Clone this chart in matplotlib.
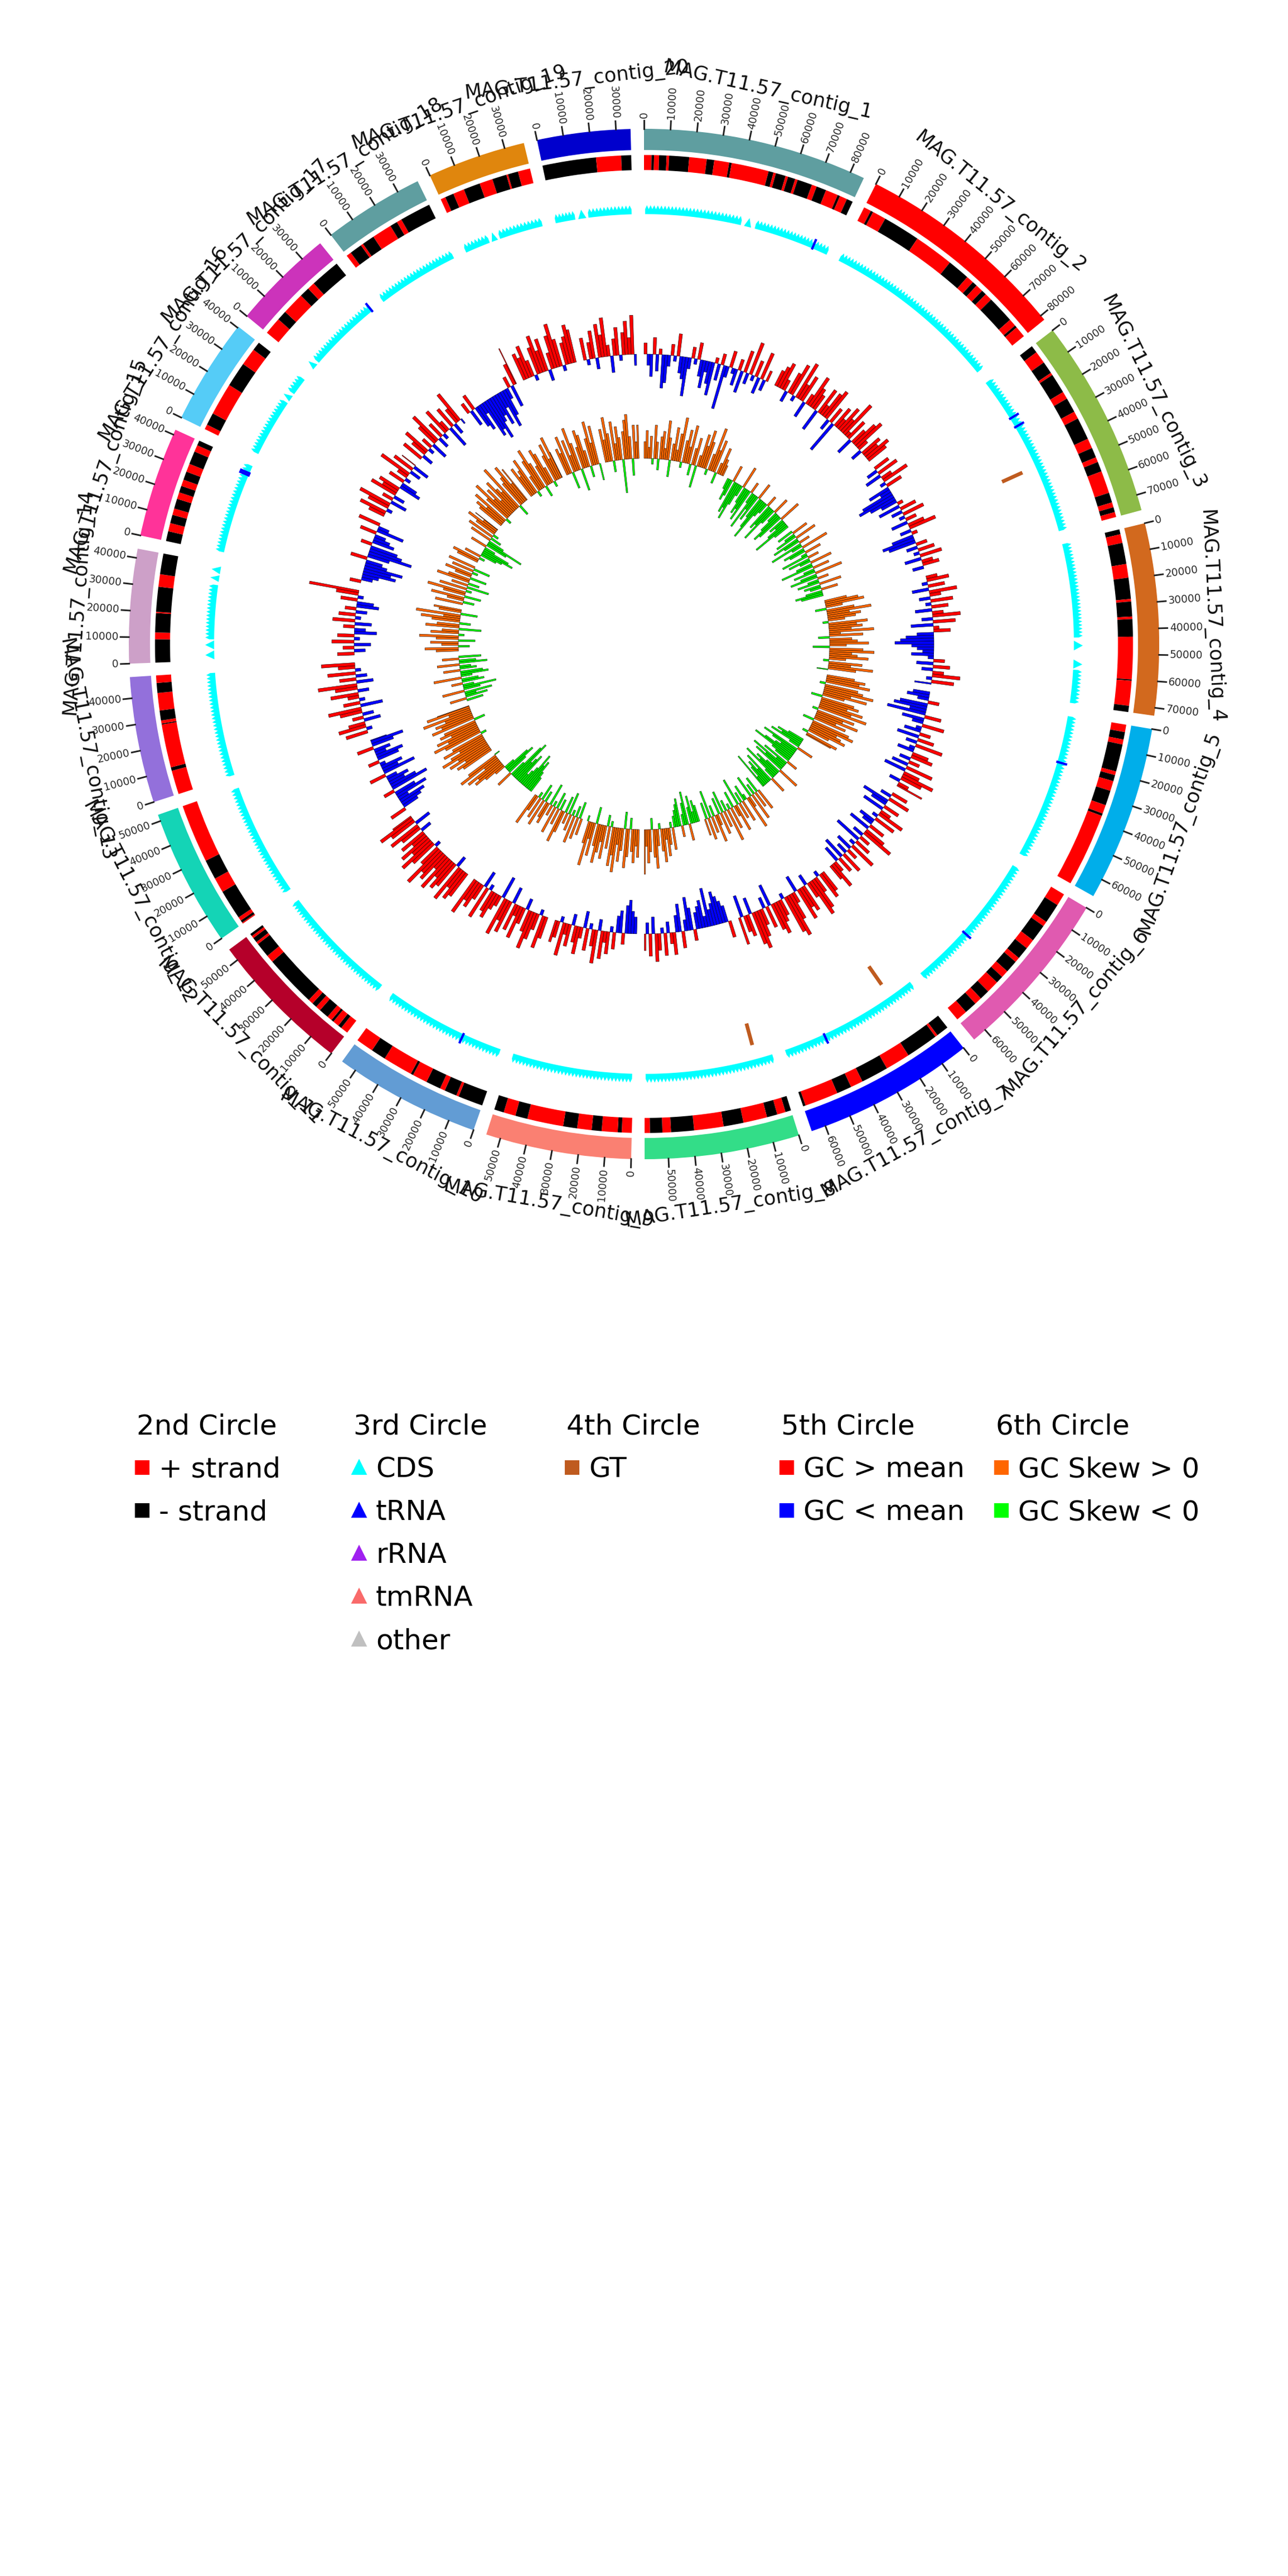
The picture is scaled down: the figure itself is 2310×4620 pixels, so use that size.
import numpy as np
import matplotlib
matplotlib.use("Agg")
import matplotlib.pyplot as plt
from matplotlib.lines import Line2D

# ---------------- data ----------------
contig_names = ["MAG.T11.57_contig_%d" % i for i in range(1, 21)]
contig_sizes = [85500, 82000, 76000, 73000, 67000, 65500, 65500, 59000, 55500, 56000,
                55000, 52500, 48000, 43500, 42000, 40500, 39000, 38500, 37500, 35500]
contig_colors = ["#5F9EA0", "#FF0000", "#8DBB48", "#D2691E", "#00AEEA", "#E05AB0", "#0000FF",
                 "#33DD88", "#FA8072", "#629CD4", "#B5002A", "#14D4B6", "#9370DB", "#CDA0C8",
                 "#FF3399", "#55CCF7", "#CC33BB", "#5F9EA0", "#E0860D", "#0000CD"]

# 2nd circle: run lengths (kb), alternating + strand / - strand, starting with +
strand_runs = [
    [3, 1, 2, 3, 1, 8, 7, 3, 6, 1, 15, 2, 1, 4, 1, 3, 1, 6, 2, 4, 5, 1, 3, 2.5],
    [3, 1, 5.5, 15, 16, 9, 3, 2, 3, 2, 3, 11, 3, 1, 5],
    [0, 3, 5, 5, 1, 8, 3, 6, 3, 9, 4, 4, 2, 4, 9, 4, 2, 2, 2],
    [0, 2, 3.5, 8.5, 5.5, 8.5, 1, 6, 1, 7, 17, 0.5, 10, 3],
    [3, 3, 2, 11, 1.5, 2.5, 4, 6, 3.5, 1, 30],
    [5, 8, 2, 7, 4, 5, 2, 5, 3, 3, 5, 4, 3, 5, 4.5],
    [0, 5, 1, 13, 10, 11, 5, 6, 13.5, 1],
    [0, 2.3, 3.4, 4.2, 9.6, 8, 11.8, 9.2, 3.4, 5, 2.1],
    [4, 1.6, 6.4, 4, 5.8, 5.6, 14.5, 4.9, 4.8, 3.9],
    [0, 10, 1, 5, 2, 6, 6, 1, 12, 6, 7],
    [3, 1.5, 2.5, 1, 2, 4, 2, 2, 2, 21, 3, 6, 1, 2, 1, 1],
    [0.5, 1, 1.5, 12, 6, 8, 23.5],
    [9.6, 1.4, 17.4, 0.4, 1.2, 4, 7, 4, 3],
    [0, 9.3, 2.7, 7.7, 0.5, 10, 5, 8.3],
    [0, 4, 3.3, 3.4, 2.6, 4, 2.7, 2.7, 2.6, 3.4, 3.3, 5.3, 2.7, 2],
    [2, 5, 13, 10, 7, 3.5],
    [7, 4, 9, 4, 3, 12],
    [2, 5, 1, 5, 8, 3, 2, 12.5],
    [2, 3.5, 4.5, 6.7, 5.3, 5.8, 0.7, 4.1, 4.9],
    [0, 21.5, 10, 4],
]

# 3rd circle: CDS blocks (kb)
cds_blocks = [
    [(0.5, 44), (45.5, 48.8), (50.5, 85)],
    [(0.5, 81.5)],
    [(0.5, 75.5)],
    [(0.5, 43), (44.4, 48.8), (52.9, 57), (57.5, 72.5)],
    [(0.5, 66.5)],
    [(0.5, 65)],
    [(0.5, 65)],
    [(0.5, 58.5)],
    [(0.5, 55)],
    [(0.5, 55.5)],
    [(0.5, 54.5)],
    [(0.5, 52)],
    [(0.5, 47.5)],
    [(0.5, 4.5), (5, 9), (9.5, 34), (35.5, 38.5), (39, 42.5)],
    [(0.5, 41.5)],
    [(0.5, 27), (28, 31), (32, 40)],
    [(0.5, 3.5), (4.5, 38.5)],
    [(0.5, 38)],
    [(0.5, 12), (13, 16), (17, 37)],
    [(0.5, 9.5), (10.8, 14.5), (15.5, 35)],
]
trna_contig = [1, 3, 3, 5, 6, 7, 10, 15, 15, 17]
trna_pos = [78000, 20000, 24500, 21700, 38000, 46000, 18600, 37000, 38000, 38000]

# 4th circle: GT
gt_contig = [3, 7, 8]
gt_pos = [44500, 11700, 8100]

# 5th / 6th circle: per 2 kb window, digits = positive, letters a..i = -1..-9
window = 2000
gc_content = [
    "2bd3c1feb2 a4cdgb2a3c ebdf1c2hb3 ac2d4b6a3c 5b2",
    "3452b46a73 5c2643d525 6b3f425371 4c3562b435 4",
    "3b4c25a3db fgec1d3b4a 2c35b1dfe2 b3a4c23b",
    "24a3c52b4a 3c25b4d13c efgdcbda2c 3b25a4c",
    "cdb2efcg3d b4ac2d3b5a c34b2c5d36 4b25",
    "3b4ec3d25a 4cb3d46b2e 3a5c2b4d3c 253",
    "45a3673b54 6c2587a346 5d4b3576c4 3d5",
    "3cdefdcgbe dc2dfb3ec4 2b4a35c4b3",
    "cdfe2dc3a4 25b63a4c25 3b426a34",
    "46a3574b36 25c647d235 4a6c3547",
    "5647b56473 6584a57463 5b46c574",
    "3cdebfd2ge cdb3fcda2d ebc3dfc",
    "4a53c2b46d 3a25b47c3b 5a36",
    "3b2c4a3db2 c4a3b2dc3a 49",
    "2bcfegdc3d hfe2dcb3eb 4",
    "35a46c2b53 4dc3a26b4c 3",
    "4b35a2c46b 3a52d4b36a",
    "2c3debgfhe dfcgeb2d47",
    "5463a5746b 3685a4576",
    "4a35b6472c 35a4637b",
]
gc_skew = [
    "3524a63b45 274c36258a 4637b35d26 475a3846b2 532",
    "bdc3fegdb4 cedf2bgce3 dfhcb2edgc 3bdfe4cbdg c",
    "c3bd4ec2fb 5dc3ae2db4 cf3bd5ce2b d4cb3ced",
    "4673b58465 3a7564826b 4573c68457 3a6485b",
    "5768a67958 4b675869a7 5846b78567 4a65",
    "cedfb3gecd fhdc2ebgdf 4cedgb3fce dbg",
    "4c3b5d26ac 4b3e52c4a6 b3d4c25b3e 4c3",
    "cdbec3fdb2 edcb4a3526 4a375b4638",
    "5364b57c46 3857a4b635 74c6384a",
    "3c4b5a3d2c 46b3c5a2d4 3b5c4a36",
    "cdfegdcbfe dhgc3dfeb2 4657386a",
    "6758697586 a7968576b8 6759486",
    "c3dbe4cfb2 dc5bed3cb4 ec3d",
    "46b35c47a5 3d64b5738c 45",
    "5b36c47a5d 3b64c35a4c 5",
    "45a3cdfeb3 dgc4b5a463 5",
    "5647a58463 7549b56847",
    "6457a3685b 4763a57485",
    "547c6385d4 763b5847c",
    "6485b7364f 5784c636",
]

legend_titles = ["2nd Circle", "3rd Circle", "4th Circle", "5th Circle", "6th Circle"]
legend_labels = [["+ strand", "- strand"],
                 ["CDS", "tRNA", "rRNA", "tmRNA", "other"],
                 ["GT"],
                 ["GC > mean", "GC < mean"],
                 ["GC Skew > 0", "GC Skew < 0"]]
legend_colors = [["#FF0000", "#000000"],
                 ["#00FFFF", "#0000FF", "#A020F0", "#F96A6A", "#C0C0C0"],
                 ["#BF5B1F"],
                 ["#FF0000", "#0000FF"],
                 ["#FF6600", "#00FF00"]]
legend_markers = ["s", "^", "s", "s", "s"]


def decode(s):
    vals = []
    for ch in s.replace(" ", ""):
        if ch.isdigit():
            vals.append(int(ch))
        else:
            vals.append(-(ord(ch) - ord("a") + 1))
    return vals


# ---------------- layout ----------------
space = np.radians(1.5)
total = sum(contig_sizes)
scale = (2 * np.pi - space * len(contig_sizes)) / total
starts = []
acc = 0
for i, s in enumerate(contig_sizes):
    starts.append(acc * scale + i * space)
    acc += s


def theta(i, pos):
    return starts[i] + pos * scale


fig = plt.figure(figsize=(7.7, 15.4), dpi=300)
ax = fig.add_axes([0, 0.5, 1, 0.5], projection="polar")
ax.set_theta_zero_location("N")
ax.set_theta_direction(-1)
ax.set_ylim(0, 1155)
ax.set_axis_off()

for i, size in enumerate(contig_sizes):
    # outer contig band
    ax.bar(starts[i], 38, width=size * scale, bottom=886, align="edge",
           color=contig_colors[i], linewidth=0)

    # ticks + labels
    for p in range(0, size + 1, 10000):
        t = theta(i, p)
        ax.plot([t, t], [924, 939], color="#222222", lw=0.7)
        deg = np.degrees(t) % 360
        if deg < 180:
            rot, ha = 90 - deg, "left"
        else:
            rot, ha = 270 - deg, "right"
        ax.text(t, 943, str(p), rotation=rot, rotation_mode="anchor", ha=ha,
                va="center", fontsize=4.5, color="#2b2b2b")

    # contig name
    tm = theta(i, size / 2)
    deg = np.degrees(tm) % 360
    rot = 180 - deg if 90 <= deg < 270 else -deg
    ax.text(tm, 1018, contig_names[i], rotation=rot, rotation_mode="anchor",
            ha="center", va="center", fontsize=8.5, color="#111111")

    # 2nd circle: strand
    pos = 0.0
    for k, run in enumerate(strand_runs[i]):
        run_bp = run * 1000
        w = min(run_bp, size - pos)
        if w > 0 and run > 0:
            ax.bar(theta(i, pos), 27, width=w * scale, bottom=850, align="edge",
                   color="#FF0000" if k % 2 == 0 else "#000000", linewidth=0)
        pos += run_bp

    # 3rd circle: CDS (sawtooth band)
    for a, b in cds_blocks[i]:
        t0, t1 = theta(i, a * 1000), theta(i, b * 1000)
        if b - a < 4.5:
            ts = [t0, (t0 + t1) / 2, t1]
            rs = [771, 787, 771]
        else:
            n = int(round((b - a) / 1.6))
            dt = (t1 - t0) / n
            ts, rs = [t0], [771]
            for j in range(n):
                ts += [t0 + j * dt, t0 + (j + 0.5) * dt]
                rs += [780, 787]
            ts.append(t1)
            rs.append(780)
            base = np.linspace(t1, t0, 40)
            ts += list(base)
            rs += [771] * len(base)
        ax.fill(ts, rs, color="#00FFFF", linewidth=0)

    # 5th circle: GC content
    for j, v in enumerate(decode(gc_content[i])):
        p = j * window
        if p >= size or v == 0:
            continue
        w = min(window, size - p)
        ax.bar(theta(i, p), v * 10, width=w * scale, bottom=520, align="edge",
               color="#FF0000" if v > 0 else "#0000FF", edgecolor="black", linewidth=0.13)

    # 6th circle: GC skew
    for j, v in enumerate(decode(gc_skew[i])):
        p = j * window
        if p >= size or v == 0:
            continue
        w = min(window, size - p)
        ax.bar(theta(i, p), v * 10, width=w * scale, bottom=333, align="edge",
               color="#FF6600" if v > 0 else "#00FF00", edgecolor="black", linewidth=0.13)

# tRNA marks on the CDS track
for c, p in zip(trna_contig, trna_pos):
    t = theta(c - 1, p)
    ax.plot([t, t], [771, 787], color="#0000FF", lw=1.0)

# 4th circle: GT
for c, p in zip(gt_contig, gt_pos):
    t = theta(c - 1, p)
    ax.plot([t, t], [705, 745], color="#BF5B1F", lw=1.6, solid_capstyle="butt")

# ---------------- legends ----------------
legend_x = [0.106, 0.2745, 0.4398, 0.6065, 0.773]
for k in range(5):
    handles = [Line2D([], [], marker=legend_markers[k], color=c, linestyle="",
                      markersize=5.5) for c in legend_colors[k]]
    fig.legend(handles, legend_labels[k], title=legend_titles[k],
               loc="upper left", bbox_to_anchor=(legend_x[k], 0.4515),
               frameon=False, fontsize=12, title_fontsize=12,
               handlelength=0.4, handletextpad=0.4, labelspacing=0.58,
               borderpad=0, borderaxespad=0, alignment="left")

fig.savefig("out.png", dpi=300)
